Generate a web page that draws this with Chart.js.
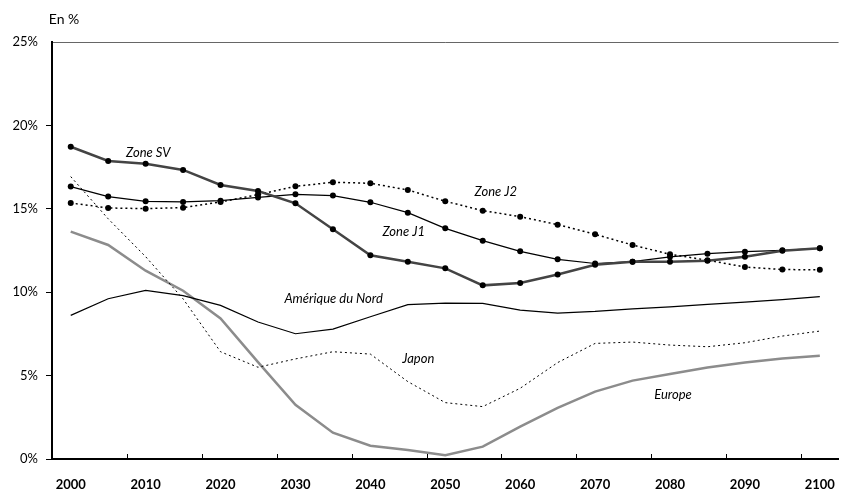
<!DOCTYPE html>
<html lang="fr">

<head>
    <meta charset="UTF-8">
    <meta name="viewport" content="width=device-width, initial-scale=1.0">
    <title>Taux en %</title>
    <script src="https://cdn.jsdelivr.net/npm/chart.js"></script>
    <style>
        html, body { margin: 0; padding: 0; background: #fff; }
        #wrap { width: 853px; height: 495px; position: relative; }
    </style>
</head>

<body>
    <div id="wrap"><canvas id="tauxChart"></canvas></div>

    <script>
        // years, every 5 years
        const annees = ['2000', '2005', '2010', '2015', '2020', '2025', '2030', '2035', '2040', '2045', '2050',
            '2055', '2060', '2065', '2070', '2075', '2080', '2085', '2090', '2095', '2100'];

        const zoneSV = [18.72, 17.87, 17.70, 17.33, 16.43, 16.07, 15.33, 13.77, 12.21, 11.83, 11.43,
            10.41, 10.55, 11.06, 11.65, 11.83, 11.83, 11.88, 12.13, 12.49, 12.63];
        const zoneJ1 = [16.33, 15.73, 15.45, 15.41, 15.49, 15.68, 15.87, 15.79, 15.39, 14.77, 13.83,
            13.09, 12.45, 11.97, 11.72, 11.83, 12.12, 12.31, 12.43, 12.51, 12.63];
        const zoneJ2 = [15.35, 15.05, 15.01, 15.07, 15.41, 15.85, 16.35, 16.59, 16.53, 16.13, 15.45,
            14.89, 14.53, 14.05, 13.47, 12.83, 12.27, 11.92, 11.51, 11.36, 11.34];
        const ameriqueNord = [8.61, 9.61, 10.11, 9.79, 9.21, 8.21, 7.51, 7.79, 8.53, 9.25, 9.35,
            9.33, 8.93, 8.75, 8.85, 9.00, 9.12, 9.27, 9.41, 9.55, 9.73];
        const japon = [16.93, 14.40, 12.13, 9.60, 6.43, 5.50, 6.00, 6.43, 6.29, 4.64, 3.38,
            3.14, 4.24, 5.78, 6.93, 7.01, 6.83, 6.73, 6.97, 7.37, 7.67];
        const europe = [13.63, 12.83, 11.29, 10.09, 8.43, 5.81, 3.25, 1.58, 0.80, 0.54, 0.22,
            0.74, 1.94, 3.07, 4.04, 4.70, 5.10, 5.48, 5.79, 6.03, 6.19];

        // curve names written next to the lines: [text, category index, value]
        const etiquettes = [
            ['Zone SV', 2.07, 18.35],
            ['Zone J2', 11.35, 16.0],
            ['Zone J1', 8.89, 13.6],
            ['Amérique du Nord', 7.02, 9.6],
            ['Japon', 9.28, 6.0],
            ['Europe', 16.08, 3.84]
        ];

        // inward tick marks on the x axis + curve names + unit
        const decor = {
            id: 'decor',
            afterDraw(chart) {
                const ctx = chart.ctx;
                const x = chart.scales.x;
                const y = chart.scales.y;
                const area = chart.chartArea;
                ctx.save();
                ctx.strokeStyle = '#000';
                ctx.lineWidth = 1;
                for (let i = 2; i < annees.length; i += 2) {
                    const px = Math.round(x.getPixelForValue(i - 0.5)) + 0.5;
                    ctx.beginPath();
                    ctx.moveTo(px, area.bottom);
                    ctx.lineTo(px, area.bottom - 5);
                    ctx.stroke();
                }
                ctx.fillStyle = '#000';
                ctx.textAlign = 'center';
                ctx.textBaseline = 'middle';
                ctx.font = 'italic 13px Lato';
                etiquettes.forEach(([txt, i, v]) => {
                    ctx.fillText(txt, x.getPixelForValue(i), y.getPixelForValue(v));
                });
                ctx.font = '14px Lato';
                ctx.fillText('En %', 64, 19);
                ctx.restore();
            }
        };

        function generateChart() {
            const ctx = document.getElementById('tauxChart').getContext('2d');
            const marker = { pointRadius: 3, pointBorderWidth: 0, pointBackgroundColor: '#000' };
            const config = {
                type: 'line',
                data: {
                    labels: annees,
                    datasets: [{
                        label: 'Zone SV',
                        data: zoneSV,
                        borderColor: '#444',
                        borderWidth: 2.5,
                        ...marker,
                    }, {
                        label: 'Zone J1',
                        data: zoneJ1,
                        borderColor: '#000',
                        borderWidth: 1.2,
                        ...marker,
                    }, {
                        label: 'Zone J2',
                        data: zoneJ2,
                        borderColor: '#000',
                        borderWidth: 1.5,
                        borderDash: [2, 3],
                        ...marker,
                    }, {
                        label: 'Amérique du Nord',
                        data: ameriqueNord,
                        borderColor: '#000',
                        borderWidth: 1.2,
                        pointRadius: 0,
                    }, {
                        label: 'Japon',
                        data: japon,
                        borderColor: '#000',
                        borderWidth: 1,
                        borderDash: [2, 3],
                        pointRadius: 0,
                    }, {
                        label: 'Europe',
                        data: europe,
                        borderColor: '#8c8c8c',
                        borderWidth: 2.5,
                        pointRadius: 0,
                    }]
                },
                options: {
                    responsive: true,
                    maintainAspectRatio: false,
                    animation: false,
                    layout: {
                        padding: { top: 42, left: 0, right: -2, bottom: 0 }
                    },
                    scales: {
                        x: {
                            offset: true,
                            afterFit: (scale) => { scale.height = 36; },
                            grid: { offset: true, drawOnChartArea: false, drawTicks: false },
                            border: { color: '#000', width: 2 },
                            ticks: {
                                autoSkip: false,
                                maxRotation: 0,
                                padding: 18,
                                color: '#000',
                                font: { family: 'Lato', size: 13, weight: 'bold' },
                                callback: (val, i) => (i % 2 === 0 ? annees[i] : '')
                            }
                        },
                        y: {
                            min: 0,
                            max: 25,
                            afterFit: (scale) => { scale.width = 52; },
                            grid: {
                                drawOnChartArea: true,
                                tickLength: 6,
                                color: (c) => (c.tick && c.tick.value === 25 ? '#666' : 'transparent'),
                                tickColor: (c) => (c.tick && c.tick.value === 25 ? 'transparent' : '#000'),
                            },
                            border: { color: '#000', width: 2 },
                            ticks: {
                                stepSize: 5,
                                padding: 8,
                                color: '#000',
                                font: { family: 'Lato', size: 13 },
                                callback: (v) => v + '%'
                            }
                        }
                    },
                    plugins: {
                        legend: { display: false },
                        tooltip: { enabled: false },
                    },
                },
                plugins: [decor]
            };
            new Chart(ctx, config);
        }

        document.addEventListener("DOMContentLoaded", () => {
            generateChart();
        });
    </script>
</body>

</html>
